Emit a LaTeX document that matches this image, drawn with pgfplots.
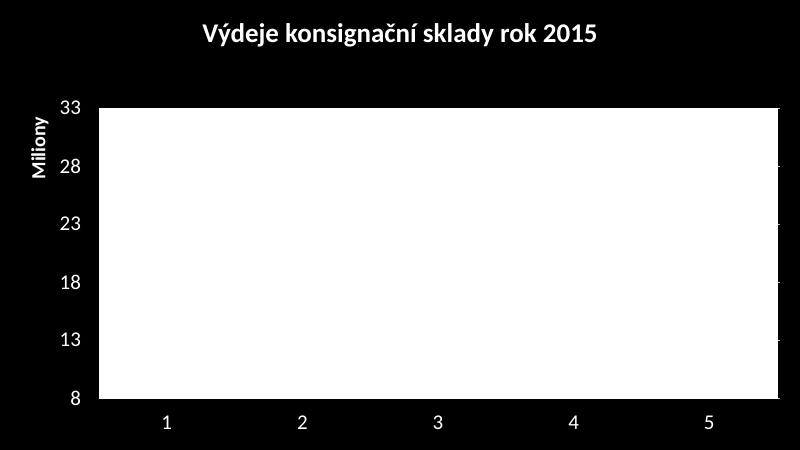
\documentclass[border=0pt]{standalone}
\usepackage{pgfplots}
\pgfplotsset{compat=1.18}
\usepackage{fontspec}
\setmainfont{Carlito}
\begin{document}
\begin{tikzpicture}
  \useasboundingbox (0,0) rectangle (800bp,450bp);
  \fill[black] (0,0) rectangle (800bp,450bp);
  \node[white, font=\fontsize{27bp}{30bp}\selectfont\bfseries] at (400bp,415bp)
    {Výdeje konsignační sklady rok 2015};
  \begin{axis}[
    at={(99bp,52bp)}, anchor=south west,
    scale only axis,
    width=678bp, height=290bp,
    xmin=0.5, xmax=5.5,
    ymin=8, ymax=33,
    xtick={1,2,3,4,5},
    ytick={8,13,18,23,28,33},
    axis background/.style={fill=white},
    axis line style={white},
    ytick pos=right, yticklabel pos=left,
    xtick style={draw=none},
    ytick style={gray!50},
    tick align=outside,
    major tick length=2.5bp,
    /pgf/number format/assume math mode=true,
    ticklabel style={white, font=\fontsize{21bp}{23bp}\selectfont},
    yticklabel style={xshift=-12bp},
    xticklabel style={yshift=-12bp},
    ylabel={Miliony},
    ylabel style={white, font=\fontsize{20bp}{22bp}\selectfont\bfseries,
      at={(axis description cs:-0.087,0.862)}, anchor=center},
  ]
  \end{axis}
\end{tikzpicture}
\end{document}
